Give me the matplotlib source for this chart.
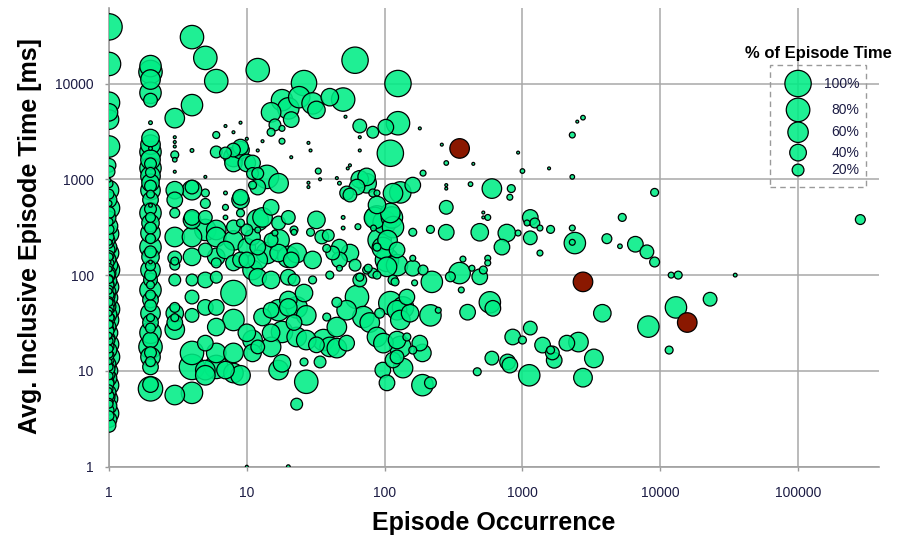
import numpy as np
import matplotlib.pyplot as plt
from matplotlib.patches import Rectangle
from matplotlib.ticker import FixedLocator, FixedFormatter, NullLocator

plt.rcParams['font.family'] = ['Liberation Sans', 'DejaVu Sans']

# episodes: occurrence count, avg inclusive time (ms), share of episode time (%)
occurrence = [
    # occurring once
    1, 1, 1, 1, 1, 1, 1, 1, 1, 1, 1, 1, 1, 1, 1, 1, 1, 1, 1, 1,
    1, 1, 1, 1, 1, 1, 1, 1, 1, 1, 1, 1, 1, 1, 1, 1, 1, 1, 1, 1,
    1, 1, 1, 1, 1, 1, 1, 1,
    1, 1, 1, 1, 1, 1, 1, 1, 1, 1, 1, 1, 1, 1, 1, 1, 1, 1, 1, 1,
    1, 1, 1, 1, 1, 1,
    1, 1, 1, 1, 1, 1, 1, 1, 1, 1, 1, 1, 1, 1, 1, 1, 1,
    1, 1, 1, 1, 1, 1, 1, 1, 1, 1, 1, 1, 1, 1, 1, 1, 1,
    # twice
    2, 2, 2, 2, 2, 2, 2, 2, 2, 2, 2, 2, 2, 2, 2, 2, 2, 2, 2, 2,
    2, 2, 2, 2, 2, 2, 2, 2, 2, 2, 2, 2, 2, 2,
    2, 2, 2, 2, 2, 2, 2, 2, 2, 2, 2, 2, 2, 2, 2, 2, 2, 2, 2, 2,
    # 3 .. 10
    3, 3, 3, 3, 3, 3, 3, 3, 3, 3, 3, 3, 3, 3, 3, 3, 3, 3, 3, 3, 3,
    4, 4, 4, 4, 4, 4, 4, 4, 4, 4, 4, 4, 4, 4, 4,
    5, 5, 5, 5, 5, 5, 5, 5, 5, 5, 5, 5,
    6, 6, 6, 6, 6, 6, 6, 6, 6, 6, 6, 6,
    7, 7, 7, 7, 7, 7, 7,
    8, 8, 8, 8, 8, 8, 8, 8, 8, 8, 8,
    9, 9, 9, 9, 9, 9, 9, 9, 9,
    10, 10, 10, 10, 10, 10, 10,
    # 11 .. 20
    11, 11, 11, 11, 11, 11, 11,
    12, 12, 12, 12, 12, 12, 12, 12, 12, 12,
    13, 13, 13, 14, 14,
    15, 15, 15, 15, 15, 15, 15, 15, 16, 16,
    17, 17, 17, 17, 17, 17, 18, 18, 18, 18, 18,
    20, 20, 20, 20, 20, 20, 20,
    # 21 .. 60
    21, 21, 21, 22, 22, 22, 22, 23, 23, 23, 23, 24, 26, 26, 26,
    27, 27, 27, 28, 28, 28, 29, 29, 30, 30, 30, 32, 32, 32, 33,
    34, 34, 35, 36, 38, 38, 39, 40, 40, 40, 42, 45, 45, 45, 45,
    47, 47, 47, 47, 50, 50, 50, 52, 53, 53, 53, 54, 56, 56, 56,
    # 61 .. 200
    61, 61, 63, 63, 64, 66, 66, 66, 66, 66, 66, 70, 74, 74, 74,
    76, 78, 82, 82, 82, 83, 85, 88, 88, 88, 88, 88, 88, 92, 92,
    97, 97, 98, 100, 102, 104, 104, 104, 105, 110, 110, 110, 113, 115, 115,
    115, 115, 119, 123, 123, 123, 123, 123, 125, 125, 130, 130, 130, 136, 136,
    145, 145, 153, 160, 160, 160, 160, 160, 165, 180, 180, 188, 188, 190, 190,
    # 200 .. 1000
    215, 215, 215, 220, 245, 260, 280, 280, 280, 280, 280, 300, 350, 360,
    370, 400, 420, 430, 440, 470, 490, 490, 520, 520, 520, 560, 560, 560,
    580, 600, 600, 610, 710, 770, 780, 810, 810, 830, 850, 930, 930,
    # above 1000
    1000, 1000, 1080, 1120, 1140, 1140, 1140, 1230, 1340, 1340, 1400, 1560,
    1600, 1600, 1650, 1700, 2100, 2300, 2300, 2300, 2300, 2400, 2500, 2550,
    2750, 2750, 3300, 3800, 4100, 5100, 5300, 6600, 8000, 8200, 9100, 9100,
    11600, 12000, 13000, 13500, 23000, 35000, 283000,
]

avg_time_ms = [
    39000, 16000, 6300, 5000, 4200, 2200, 1400, 1200, 980, 770,
    610, 500, 395, 325, 270, 230, 196, 170, 147, 137,
    127, 113, 98, 87, 75, 67, 58, 51, 44, 39,
    34, 29, 25, 23, 22, 19, 16.5, 14, 11.8, 10,
    8.4, 7.1, 6.0, 5.1, 4.3, 3.6, 3.1, 2.7,
    250, 210, 160, 120, 105, 92, 81, 71, 62, 54,
    47, 42, 36, 31, 27, 20.5, 18, 15, 13, 11,
    9.2, 7.7, 6.5, 5.5, 4.7, 3.9,
    900, 700, 560, 450, 360, 300, 220, 185, 155, 133,
    116, 102, 90, 78, 68, 60, 52,
    45.5, 40, 35, 30.5, 26, 23.5, 21, 17, 14.5, 12.5,
    10.5, 8.9, 7.4, 6.2, 5.3, 4.5, 3.4,
    15200, 13200, 11000, 8000, 6700, 3900, 2700, 2300, 2100, 1930,
    1600, 1310, 1080, 920, 770, 610, 535, 445, 350, 275,
    196, 155, 137, 113, 89, 70, 55, 40, 32, 25,
    17.8, 14, 11, 6.5,
    1450, 1180, 850, 700, 490, 400, 310, 240, 175, 125,
    100, 79, 62, 48, 36, 28, 21, 15.5, 12.5, 7.2,
    4350, 2750, 2450, 2200, 1800, 1600, 1200, 770, 610, 445,
    250, 151, 127, 140, 89, 46, 40, 32, 27, 36, 5.6,
    30500, 5950, 2000, 830, 770, 400, 375, 250, 155, 89, 59, 38, 15.4, 11, 5.9,
    18500, 1060, 720, 560, 400, 296, 183, 89, 46, 19.5, 10.2, 9,
    10600, 2900, 1930, 296, 250, 155, 134, 95, 46, 28.7, 15.4, 11,
    3600, 1880, 720, 510, 400, 183, 10.2,
    3100, 2020, 1710, 1480, 318, 230, 134, 65, 34, 15.4, 9.5,
    3900, 2170, 2020, 650, 610, 445, 350, 144, 9,
    2650, 1480, 296, 196, 144, 25, 1,
    1480, 1150, 870, 249, 113, 21, 15.4,
    13800, 2000, 1150, 830, 375, 296, 196, 144, 95, 17.8,
    2500, 400, 36.5, 1060, 170,
    5000, 3100, 510, 232, 89, 43, 25, 17.8, 3700, 275,
    910, 350, 232, 170, 43, 10.2, 6700, 3400, 2500, 25.5, 12,
    5500, 400, 155, 95, 55, 46, 1,
    4200, 1700, 144, 296, 280, 89, 32, 170, 46, 22.6, 4.5, 7200, 10100, 65, 12.4,
    38, 21, 7.7, 2400, 920, 830, 2000, 280, 6200, 144, 89, 5300, 377, 18.7, 1220,
    1000, 12.4, 250, 21, 190, 36.5, 260, 7200, 100, 17.8, 170, 1030, 52, 28.7, 17.3,
    910, 196, 144, 118, 6800, 400, 310, 4500, 720, 43, 19.5, 1300, 1400, 685, 170,
    17500, 127, 830, 59, 320, 3600, 2750, 2000, 1000, 95, 89, 36.5, 1060, 910, 113,
    118, 32, 3100, 720, 105, 310, 395, 720, 540, 400, 196, 100, 22.6, 232, 40,
    192, 10.2, 19.5, 355, 3500, 144, 122, 7.5, 232, 1870, 445, 51, 400, 716, 317,
    89, 13, 85, 183, 127, 43, 21, 14, 10000, 3850, 730, 34, 17.8, 46, 10.7,
    59, 22.6, 40, 870, 280, 150, 118, 16.5, 83, 3400, 19.5, 15.4, 7.1, 1160, 113,
    300, 38, 7.5, 85, 43, 2300, 1480, 870, 800, 510, 280, 96, 105, 70,
    147, 41, 890, 118, 1450, 9.8, 280, 96, 450, 400, 113, 400, 150, 134,
    52, 800, 13.6, 45, 196, 275, 12.4, 650, 11.5, 800, 22.6, 1900, 275,
    1220, 21, 350, 9, 400, 245, 28, 350, 310, 170, 18.6, 1300,
    300, 16.5, 15.4, 12.9, 19.5, 2900, 1060, 310, 220, 216, 4000, 20,
    4400, 8.5, 13.5, 40, 240, 200, 400, 210, 175, 29, 730, 137,
    16.5, 100, 46, 100, 56, 100, 380,
]

pct_time = [
    100, 79, 66, 44, 55, 66, 27, 20, 2, 55,
    35, 66, 27, 44, 55, 20, 35, 55, 27, 2,
    44, 66, 20, 35, 55, 27, 44, 20, 66, 35,
    55, 27, 44, 5, 20, 55, 35, 66, 27, 44,
    35, 55, 27, 44, 35, 55, 35, 27,
    14, 9, 14, 9, 27, 9, 14, 9, 14, 9,
    27, 9, 14, 9, 14, 9, 14, 9, 14, 9,
    20, 14, 9, 14, 9, 14,
    9, 14, 5, 20, 9, 14, 5, 20, 9, 14,
    5, 20, 9, 14, 5, 20, 9,
    14, 5, 20, 9, 14, 5, 20, 9, 14, 5,
    20, 9, 14, 5, 20, 9, 14,
    66, 79, 55, 66, 27, 2, 44, 55, 2, 66,
    55, 66, 55, 44, 55, 35, 2, 66, 44, 55,
    66, 44, 2, 55, 27, 66, 35, 55, 35, 66,
    79, 55, 35, 86,
    20, 14, 20, 9, 20, 14, 20, 14, 20, 14,
    20, 9, 14, 20, 9, 14, 35, 20, 14, 35,
    55, 1.2, 1.2, 1.2, 9, 3, 1.2, 44, 35, 14,
    55, 27, 14, 9, 20, 14, 44, 35, 55, 9, 55,
    79, 66, 2, 27, 55, 35, 44, 55, 44, 20, 27, 27, 79, 93, 66,
    79, 1.2, 9, 14, 27, 66, 27, 35, 35, 35, 55, 55,
    79, 7, 20, 55, 55, 44, 14, 20, 35, 44, 55, 79,
    1.2, 20, 2, 5, 3, 44, 44,
    1.2, 27, 55, 44, 27, 55, 35, 93, 66, 55, 55,
    1.2, 35, 44, 35, 44, 9, 9, 35, 55,
    1.2, 44, 20, 44, 35, 44, 1.2,
    35, 20, 9, 35, 55, 55, 44,
    79, 1.2, 20, 35, 66, 5, 35, 55, 44, 27,
    1.2, 55, 44, 79, 66,
    55, 9, 35, 27, 44, 35, 44, 55, 20, 5,
    55, 27, 66, 44, 66, 55, 66, 5, 5, 66, 44,
    66, 27, 66, 35, 44, 44, 2,
    35, 1.2, 35, 9, 5, 20, 35, 55, 66, 55, 20, 66, 93, 44, 9,
    55, 55, 79, 1.2, 1.2, 1.2, 1.2, 9, 66, 44, 9, 44, 44, 35, 5,
    1.2, 20, 27, 66, 9, 9, 20, 44, 9, 55, 27, 1.2, 14, 55, 55,
    2, 35, 35, 5, 79, 2, 2, 1.2, 27, 55, 35, 1.2, 1.2, 27, 44,
    100, 20, 35, 79, 5, 27, 1.2, 1.2, 44, 9, 27, 66, 44, 55, 9,
    9, 55, 20, 9, 14, 5, 66, 5, 44, 79, 9, 9, 55, 79, 14,
    66, 35, 55, 79, 35, 79, 55, 35, 55, 100, 55, 79, 66, 55, 66,
    14, 35, 9, 35, 66, 55, 44, 27, 100, 79, 66, 55, 66, 66, 55,
    35, 9, 44, 35, 9, 5, 35, 9, 5, 1.2, 35, 44, 66, 5, 14,
    9, 66, 20, 66, 5, 1.2, 3, 1.2, 1.2, 27, 35, 14, 66, 5,
    5, 35, 3, 5, 1.2, 9, 44, 35, 1.2, 1.2, 9, 5, 5, 5,
    66, 55, 27, 35, 35, 44, 35, 5, 35, 9, 35, 1.2, 5,
    3, 9, 5, 66, 35, 27, 27, 14, 5, 5, 35, 1.2,
    9, 9, 27, 35, 35, 5, 3, 5, 5, 66, 1.2, 55,
    3, 50, 50, 44, 14, 3, 9, 35, 27, 66, 9, 14,
    9, 5, 66, 9, 27, 2, 14,
]

# the three episodes called out in red
hot_occurrence = [350, 2750, 15700]
hot_time_ms = [2100, 85, 32]
hot_pct = [55, 55, 55]

# size key, drawn as bubbles at the right of the plot
legend_pct = [100, 80, 60, 40, 20]
legend_time_ms = [10000, 5300, 3100, 1900, 1250]
legend_occurrence = 100000

x_ticks = [1, 10, 100, 1000, 10000, 100000]
x_tick_labels = ['1', '10', '100', '1000', '10000', '100000']
y_ticks = [1, 10, 100, 1000, 10000]
y_tick_labels = ['1', '10', '100', '1000', '10000']

assert len(occurrence) == len(avg_time_ms) == len(pct_time)

GREEN = (0.0, 0.93, 0.52, 0.88)
RED = '#8a1800'
TEXT = '#1c1c44'


def bubble_area(pct):
    # bubble area proportional to the share of episode time
    return np.asarray(pct, dtype=float) * 3.6


fig = plt.figure(figsize=(8.98, 5.37), dpi=100)
ax = fig.add_axes([0.1214, 0.1309, 0.8575, 0.8542])
ax.set_xscale('log')
ax.set_yscale('log')
ax.set_xlim(1, 387000)
ax.set_ylim(1, 61400)

x = np.array(occurrence, dtype=float)
y = np.array(avg_time_ms, dtype=float)
p = np.array(pct_time, dtype=float)
order = np.argsort(-p, kind='stable')  # big bubbles underneath
ax.scatter(x[order], y[order], s=bubble_area(p[order]), facecolor=GREEN,
           edgecolor='black', linewidth=0.9, zorder=3)
ax.scatter(hot_occurrence, hot_time_ms, s=bubble_area(hot_pct), facecolor=RED,
           edgecolor='black', linewidth=0.9, zorder=4)

# size key
ax.scatter([legend_occurrence] * len(legend_pct), legend_time_ms,
           s=bubble_area(legend_pct), facecolor=GREEN, edgecolor='black',
           linewidth=0.9, zorder=5)
for pct, yy in zip(legend_pct, legend_time_ms):
    ax.annotate(f'{pct}%', xy=(legend_occurrence, yy), xytext=(44, 0),
                textcoords='offset points', ha='right', va='center',
                fontsize=10, color=TEXT, zorder=6)
fig.patches.append(Rectangle((770 / 898, 1 - 187 / 537), 96 / 898, 122 / 537,
                             transform=fig.transFigure, fill=False,
                             edgecolor='#9a9a9a', linestyle=(0, (4, 3)),
                             linewidth=1.0, zorder=10))
fig.text(818 / 898, 1 - 53 / 537, '% of Episode Time', ha='center', va='center',
         fontsize=12, fontweight='bold', color='black')

ax.xaxis.set_major_locator(FixedLocator(x_ticks))
ax.xaxis.set_major_formatter(FixedFormatter(x_tick_labels))
ax.yaxis.set_major_locator(FixedLocator(y_ticks))
ax.yaxis.set_major_formatter(FixedFormatter(y_tick_labels))
ax.xaxis.set_minor_locator(NullLocator())
ax.yaxis.set_minor_locator(NullLocator())
ax.tick_params(axis='both', direction='out', length=3, width=1.0,
               color='#999999', labelsize=10, labelcolor=TEXT)
ax.tick_params(axis='x', pad=11)
ax.tick_params(axis='y', pad=8)

ax.grid(True, color='#a8a8a8', linewidth=1.1, zorder=0)
ax.set_axisbelow(True)
for side in ['top', 'right']:
    ax.spines[side].set_visible(False)
for side in ['left', 'bottom']:
    ax.spines[side].set_color('#a0a0a0')
    ax.spines[side].set_linewidth(1.2)

fig.text(494 / 898, 1 - 523 / 537, 'Episode Occurrence', ha='center',
         va='center', fontsize=18, fontweight='bold')
fig.text(30 / 898, 1 - 236 / 537, 'Avg. Inclusive Episode Time [ms]',
         ha='center', va='center', rotation=90, fontsize=18, fontweight='bold')

fig.savefig('out.png', dpi=100)
